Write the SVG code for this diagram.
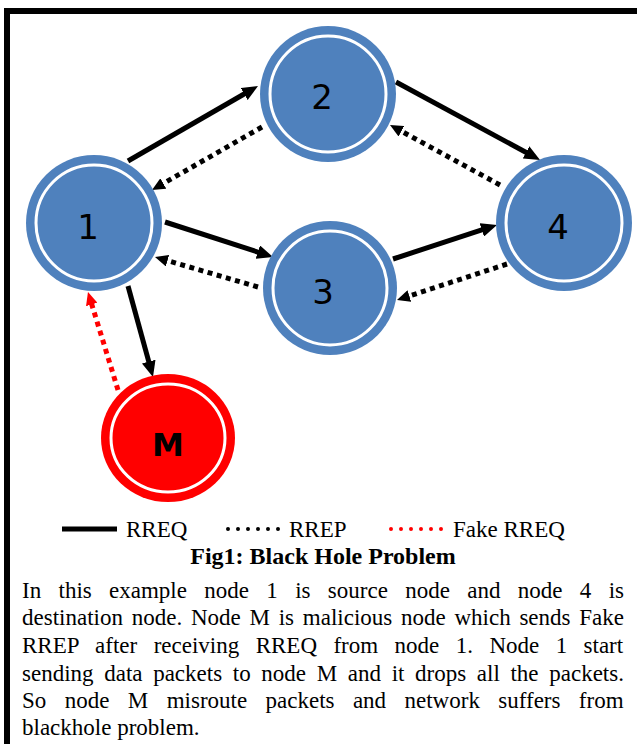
<svg xmlns="http://www.w3.org/2000/svg" width="637" height="744" viewBox="0 0 637 744">
<style>
.ring{fill:#4F81BD}
.inner{fill:none;stroke:#fff;stroke-width:3}
.red{fill:#FF0000}
.num{font-family:"DejaVu Sans","Liberation Sans",sans-serif;font-size:34px;fill:#000;text-anchor:middle}
.m{font-family:"DejaVu Sans","Liberation Sans",sans-serif;font-size:32px;font-weight:bold;fill:#000;text-anchor:middle}
.solid{stroke:#000;stroke-width:5;fill:none;marker-end:url(#ah)}
.dot{stroke:#000;stroke-width:5;stroke-dasharray:5 4.5;fill:none;marker-end:url(#ahs)}
.rdot{stroke:#FF0000;stroke-width:5;stroke-dasharray:5 4.5;fill:none;marker-end:url(#ahr)}
.tx{font-family:"Liberation Serif","Times New Roman",serif;font-size:23px;fill:#000}
.tt{font-family:"Liberation Serif","Times New Roman",serif;font-size:24px;font-weight:bold;fill:#000;text-anchor:middle}
</style>
<defs>
<marker id="ah" markerUnits="userSpaceOnUse" markerWidth="16" markerHeight="14" refX="4" refY="7" orient="auto"><path d="M0,0 L16,7 L0,14 z" fill="#000"/></marker>
<marker id="ahs" markerUnits="userSpaceOnUse" markerWidth="13" markerHeight="12" refX="3" refY="6" orient="auto"><path d="M0,0 L13,6 L0,12 z" fill="#000"/></marker>
<marker id="ahr" markerUnits="userSpaceOnUse" markerWidth="13" markerHeight="12" refX="3" refY="6" orient="auto"><path d="M0,0 L13,6 L0,12 z" fill="#FF0000"/></marker>
</defs>
<rect x="0" y="0" width="637" height="744" fill="#fff"/>
<rect x="7" y="11" width="700" height="800" fill="none" stroke="#000" stroke-width="6"/>

<g id="connectors">
<line class="solid" x1="128" y1="161" x2="247.6" y2="92"/>
<line class="dot" x1="262" y1="127" x2="160.7" y2="185"/>
<line class="solid" x1="165" y1="222" x2="261.6" y2="253.3"/>
<line class="dot" x1="258" y1="287" x2="164.6" y2="259.8"/>
<line class="solid" x1="128" y1="286" x2="149.8" y2="365.4"/>
<line class="rdot" x1="118" y1="390" x2="90.9" y2="301.6"/>
<line class="solid" x1="396" y1="82" x2="529.5" y2="154.3"/>
<line class="dot" x1="500" y1="185" x2="398.8" y2="129.8"/>
<line class="solid" x1="393" y1="259" x2="485.6" y2="228.7"/>
<line class="dot" x1="507" y1="264" x2="406.5" y2="296.9"/>
</g>

<g id="node1"><circle class="ring" cx="94" cy="223" r="68"/><circle class="inner" cx="94" cy="223" r="58"/><text class="num" x="88" y="239">1</text></g>
<g id="node2"><circle class="ring" cx="328" cy="94" r="68"/><circle class="inner" cx="328" cy="94" r="58"/><text class="num" x="322" y="109">2</text></g>
<g id="node3"><circle class="ring" cx="330" cy="288" r="67"/><circle class="inner" cx="330" cy="288" r="57"/><text class="num" x="323" y="304">3</text></g>
<g id="node4"><circle class="ring" cx="564" cy="223" r="68"/><circle class="inner" cx="564" cy="223" r="58"/><text class="num" x="558" y="239">4</text></g>
<g id="nodeM"><ellipse class="red" cx="168" cy="438" rx="67" ry="64"/><ellipse class="inner" cx="168" cy="438" rx="57" ry="54"/><text class="m" x="168" y="456">M</text></g>

<g id="legend">
<line x1="62" y1="529" x2="117" y2="529" stroke="#000" stroke-width="5"/>
<text class="tx" x="126" y="537">RREQ</text>
<line x1="228" y1="529" x2="280" y2="529" stroke="#000" stroke-width="4" stroke-linecap="round" stroke-dasharray="0 10"/>
<text class="tx" x="289" y="537">RREP</text>
<line x1="391" y1="529" x2="443" y2="529" stroke="#FF0000" stroke-width="4" stroke-linecap="round" stroke-dasharray="0 10"/>
<text class="tx" x="453" y="537">Fake RREQ</text>
</g>
<text class="tt" x="323" y="564">Fig1: Black Hole Problem</text>

<g id="caption">
<text class="tx" x="22" y="598" word-spacing="11.58">In this example node 1 is source node and node 4 is</text>
<text class="tx" x="22" y="625" word-spacing="3.01">destination node. Node M is malicious node which sends Fake</text>
<text class="tx" x="22" y="653" word-spacing="10.68">RREP after receiving RREQ from node 1. Node 1 start</text>
<text class="tx" x="22" y="681" word-spacing="4.9">sending data packets to node M and it drops all the packets.</text>
<text class="tx" x="22" y="708" word-spacing="12.65">So node M misroute packets and network suffers from</text>
<text class="tx" x="22" y="735">blackhole problem.</text>
</g>
</svg>
